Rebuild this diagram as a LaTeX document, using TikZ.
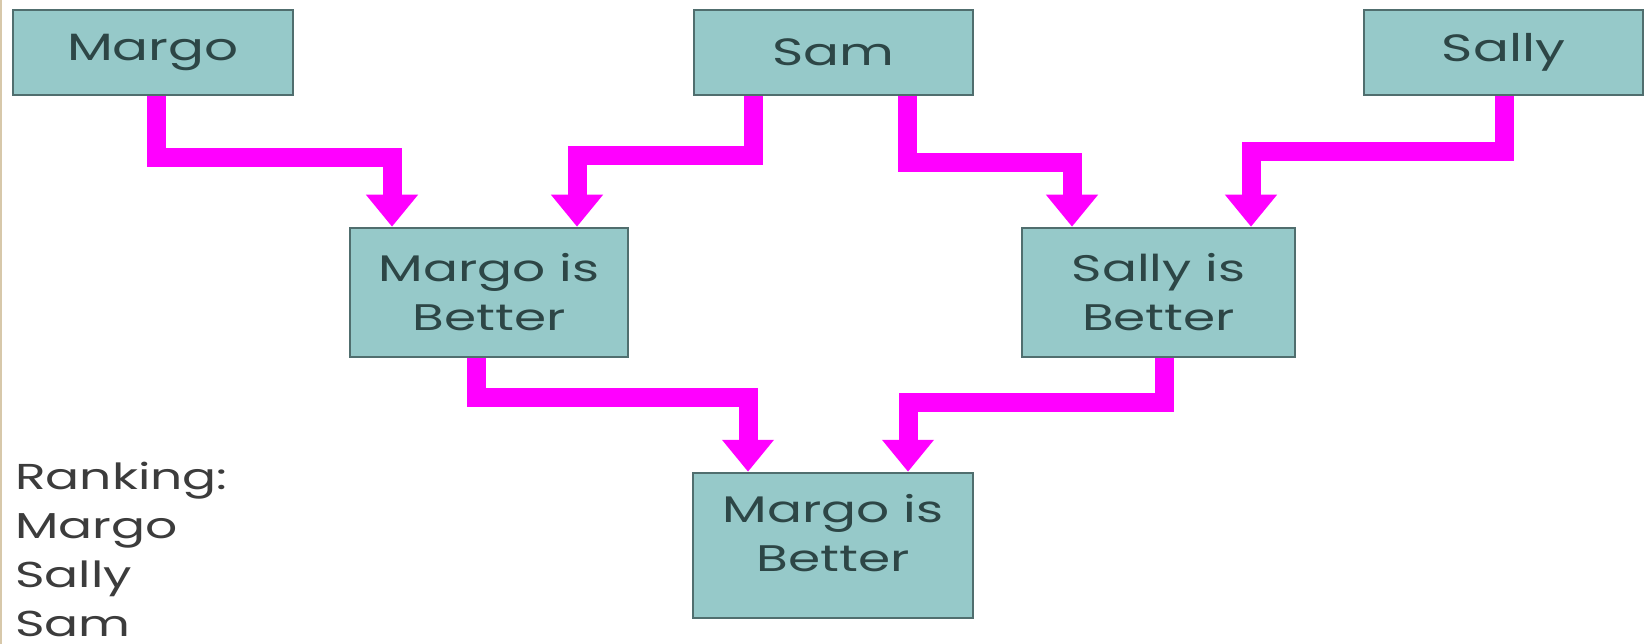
\documentclass[tikz,border=0pt]{standalone}
\usepackage{fontspec}
\setmainfont{Poppins}[FakeStretch=1.4]
\usetikzlibrary{arrows.meta}
\definecolor{boxfill}{RGB}{150,201,201}
\definecolor{boxline}{RGB}{80,110,110}
\definecolor{boxtext}{RGB}{45,70,70}
\definecolor{conncol}{RGB}{255,0,255}
\definecolor{ranktext}{RGB}{60,60,60}
\definecolor{edgecol}{RGB}{215,200,170}
\tikzset{
  box/.style={draw=boxline, line width=2.5pt, fill=boxfill, text=boxtext,
    inner sep=0pt, align=center, font=\fontsize{37}{49}\selectfont},
  topbox/.style={box, minimum height=85pt, font=\fontsize{38}{50}\selectfont},
  midbox/.style={box, minimum height=129pt},
  conn/.style={draw=conncol, line width=19pt, line join=miter,
    -{Triangle[width=50pt,length=32pt]}},
  rank/.style={anchor=base west, inner sep=0pt, text=ranktext,
    font=\fontsize{36}{50}\selectfont}
}
\begin{document}
\begin{tikzpicture}[x=1pt,y=-1pt]
\useasboundingbox[fill=white] (0,0) rectangle (1651,644);
\draw[edgecol, line width=2pt] (1,0) -- (1,644);

\node[topbox, minimum width=280pt] (margo) at (153,52.5) {Margo};
\node[topbox, minimum width=279pt] (sam) at (833.5,52.5) {Sam};
\node[topbox, minimum width=279pt] (sally) at (1503.5,52.5) {Sally};
\node[midbox, minimum width=278pt] (mb) at (489,292.5) {Margo is\\Better};
\node[midbox, minimum width=273pt] (sb) at (1158.5,292.5) {Sally is\\Better};
\node[box, minimum width=280pt, minimum height=145pt, text depth=26pt] (final) at (833,545.5) {Margo is\\Better};

\coordinate (j1) at (392,158);
\coordinate (j2) at (577,156);
\coordinate (j3) at (1072,163);
\coordinate (j4) at (1251,152);
\coordinate (j5) at (748,397);
\coordinate (j6) at (908,402);

\draw[conn] ([xshift=3pt]margo.south) |- (j1) -- ([xshift=-97pt]mb.north);
\draw[conn] ([xshift=-80.5pt]sam.south) |- (j2) -- ([xshift=88pt]mb.north);
\draw[conn] ([xshift=73.5pt]sam.south) |- (j3) -- ([xshift=-86.5pt]sb.north);
\draw[conn] ([xshift=0.5pt]sally.south) |- (j4) -- ([xshift=92.5pt]sb.north);
\draw[conn] ([xshift=-13pt]mb.south) |- (j5) -- ([xshift=-85pt]final.north);
\draw[conn] ([xshift=5.5pt]sb.south) |- (j6) -- ([xshift=75pt]final.north);

\node[rank] (r0) at (15,489) {Ranking:};
\node[rank] (r1) at (15,538) {Margo};
\node[rank] (r2) at (15,587) {Sally};
\node[rank] (r3) at (15,636) {Sam};
\end{tikzpicture}
\end{document}
